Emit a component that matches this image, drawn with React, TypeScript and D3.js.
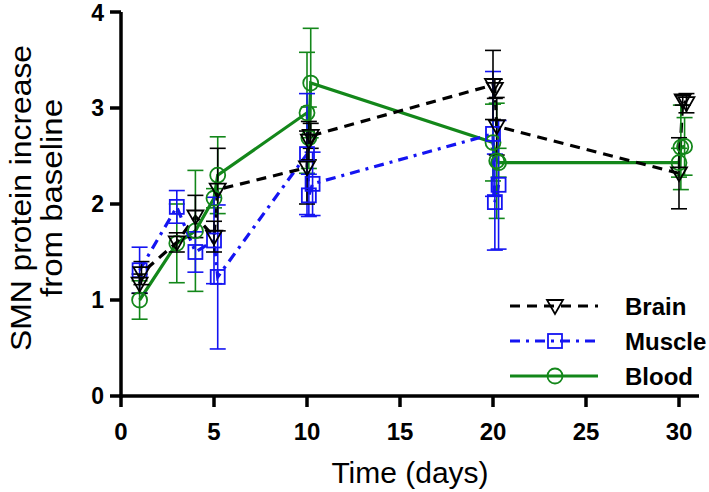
import React, { useEffect, useRef } from 'react';
import * as d3 from 'd3';

// time points (days), slight offsets keep repeated measurements apart
const brainDays = [1, 1.1, 3, 4, 5, 5.2, 10, 10.1, 10.2, 20, 20.1, 20.2, 30, 30.2, 30.4];
const brainMean = [1.17, 1.28, 1.6, 1.87, 1.66, 2.15, 2.38, 2.66, 2.71, 3.24, 3.2, 2.81, 2.32, 3.08, 3.05];
const brainSem = [0.1, 0.12, 0.1, 0.22, 0.16, 0.43, 0.38, 0.2, 0.13, 0.36, 0.1, 0.3, 0.37, 0.05, 0.1];

const muscleDays = [1, 3, 4, 5, 5.2, 10, 10.1, 10.3, 20, 20.1, 20.3];
const muscleMean = [1.31, 1.97, 1.5, 1.62, 1.24, 2.52, 2.09, 2.21, 2.73, 2.02, 2.2];
const muscleSem = [0.24, 0.17, 0.21, 0.45, 0.75, 0.63, 0.22, 0.33, 0.65, 0.5, 0.67];

const bloodDays = [1, 3, 4, 5, 5.2, 10, 10.1, 10.2, 20, 20.2, 20.3, 30, 30.1, 30.3];
const bloodMean = [1.0, 1.59, 1.72, 2.06, 2.3, 2.95, 2.69, 3.26, 2.64, 2.45, 2.43, 2.43, 2.59, 2.6];
const bloodSem = [0.2, 0.41, 0.63, 0.1, 0.4, 0.63, 0.32, 0.57, 0.4, 0.6, 0.15, 0.15, 0.44, 0.3];

const xTicks = [0, 5, 10, 15, 20, 25, 30];
const yTicks = [0, 1, 2, 3, 4];
const seriesNames = ['Brain', 'Muscle', 'Blood'];

const App = () => {
  const svgRef = useRef(null);

  useEffect(() => {
    const svg = d3.select(svgRef.current);
    svg.selectAll('*').remove();

    const x = d3.scaleLinear().domain([0, 30]).range([121, 679]);
    const y = d3.scaleLinear().domain([0, 4]).range([396, 12]);

    const series = [
      { name: 'Blood', days: bloodDays, mean: bloodMean, sem: bloodSem, color: '#13871a', dash: null, shape: 'circle' },
      { name: 'Muscle', days: muscleDays, mean: muscleMean, sem: muscleSem, color: '#1414f2', dash: '10,6,3,6', shape: 'square' },
      { name: 'Brain', days: brainDays, mean: brainMean, sem: brainSem, color: '#000000', dash: '10,7', shape: 'tri' },
    ];

    const drawMarker = (g, shape, cx, cy, color) => {
      if (shape === 'circle') {
        g.append('circle').attr('cx', cx).attr('cy', cy).attr('r', 7.5)
          .attr('fill', 'none').attr('stroke', color).attr('stroke-width', 1.8);
      } else if (shape === 'square') {
        g.append('rect').attr('x', cx - 7).attr('y', cy - 7).attr('width', 14).attr('height', 14)
          .attr('fill', 'none').attr('stroke', color).attr('stroke-width', 1.8);
      } else {
        g.append('path').attr('d', `M${cx - 8},${cy - 6}L${cx + 8},${cy - 6}L${cx},${cy + 8}Z`)
          .attr('fill', 'none').attr('stroke', color).attr('stroke-width', 1.8);
      }
    };

    const line = d3.line().x(d => x(d[0])).y(d => y(d[1]));

    series.forEach(s => {
      const pts = s.days.map((d, i) => [d, s.mean[i]]);
      svg.append('path')
        .datum(pts)
        .attr('d', line)
        .attr('fill', 'none')
        .attr('stroke', s.color)
        .attr('stroke-width', 3.2)
        .attr('stroke-dasharray', s.dash);
    });

    series.forEach(s => {
      const g = svg.append('g');
      s.days.forEach((d, i) => {
        const cx = x(d);
        const top = y(s.mean[i] + s.sem[i]);
        const bot = y(s.mean[i] - s.sem[i]);
        g.append('line').attr('x1', cx).attr('x2', cx).attr('y1', top).attr('y2', bot)
          .attr('stroke', s.color).attr('stroke-width', 1.6);
        [top, bot].forEach(yy => {
          g.append('line').attr('x1', cx - 8).attr('x2', cx + 8).attr('y1', yy).attr('y2', yy)
            .attr('stroke', s.color).attr('stroke-width', 1.6);
        });
      });
    });

    series.forEach(s => {
      const g = svg.append('g');
      s.days.forEach((d, i) => drawMarker(g, s.shape, x(d), y(s.mean[i]), s.color));
    });

    // axes
    const ax = svg.append('g').attr('stroke', '#000').attr('stroke-width', 3.5);
    ax.append('line').attr('x1', 121).attr('x2', 121).attr('y1', y(4)).attr('y2', y(0) + 1.75);
    ax.append('line').attr('x1', 119.25).attr('x2', 699).attr('y1', y(0)).attr('y2', y(0));
    xTicks.forEach(t => {
      ax.append('line').attr('x1', x(t)).attr('x2', x(t)).attr('y1', y(0)).attr('y2', y(0) + 11);
    });
    yTicks.forEach(t => {
      ax.append('line').attr('x1', 110).attr('x2', 121).attr('y1', y(t)).attr('y2', y(t));
    });

    svg.append('g').selectAll('text').data(xTicks).enter().append('text')
      .attr('x', d => x(d)).attr('y', 440)
      .attr('text-anchor', 'middle')
      .style('font-family', 'Liberation Sans, Arial, sans-serif')
      .style('font-weight', 'bold').style('font-size', '24px')
      .text(d => d);

    svg.append('g').selectAll('text').data(yTicks).enter().append('text')
      .attr('x', 104).attr('y', d => Math.max(y(d), 13)).attr('dy', '0.36em')
      .attr('text-anchor', 'end')
      .style('font-family', 'Liberation Sans, Arial, sans-serif')
      .style('font-weight', 'bold').style('font-size', '23px')
      .text(d => d);

    svg.append('text')
      .attr('x', 410).attr('y', 483)
      .attr('text-anchor', 'middle')
      .style('font-family', 'Liberation Sans, Arial, sans-serif')
      .style('font-size', '30px')
      .text('Time (days)');

    const yTitle = svg.append('text')
      .attr('transform', 'translate(0,198) rotate(-90)')
      .attr('text-anchor', 'middle')
      .style('font-family', 'Liberation Sans, Arial, sans-serif')
      .style('font-size', '30px');
    yTitle.append('tspan').attr('x', 0).attr('y', 31)
      .attr('textLength', 306).attr('lengthAdjust', 'spacingAndGlyphs')
      .text('SMN protein increase');
    yTitle.append('tspan').attr('x', 0).attr('y', 62)
      .attr('textLength', 198).attr('lengthAdjust', 'spacingAndGlyphs')
      .text('from baseline');

    // legend
    const legend = svg.append('g');
    const legendOrder = [series[2], series[1], series[0]];
    legendOrder.forEach((s, i) => {
      const ly = 306 + i * 35;
      legend.append('line').attr('x1', 510).attr('x2', 598).attr('y1', ly).attr('y2', ly)
        .attr('stroke', s.color).attr('stroke-width', 3.2).attr('stroke-dasharray', s.dash);
      drawMarker(legend, s.shape, 555, ly, s.color);
      legend.append('text')
        .attr('x', 625).attr('y', ly).attr('dy', '0.36em')
        .style('font-family', 'Liberation Sans, Arial, sans-serif')
        .style('font-weight', 'bold').style('font-size', '24px')
        .text(seriesNames[i]);
    });
  }, []);

  return (
    <svg ref={svgRef} width={709} height={492}
      style={{ position: 'absolute', left: 0, top: 0, background: '#fff' }} />
  );
};

export default App;
